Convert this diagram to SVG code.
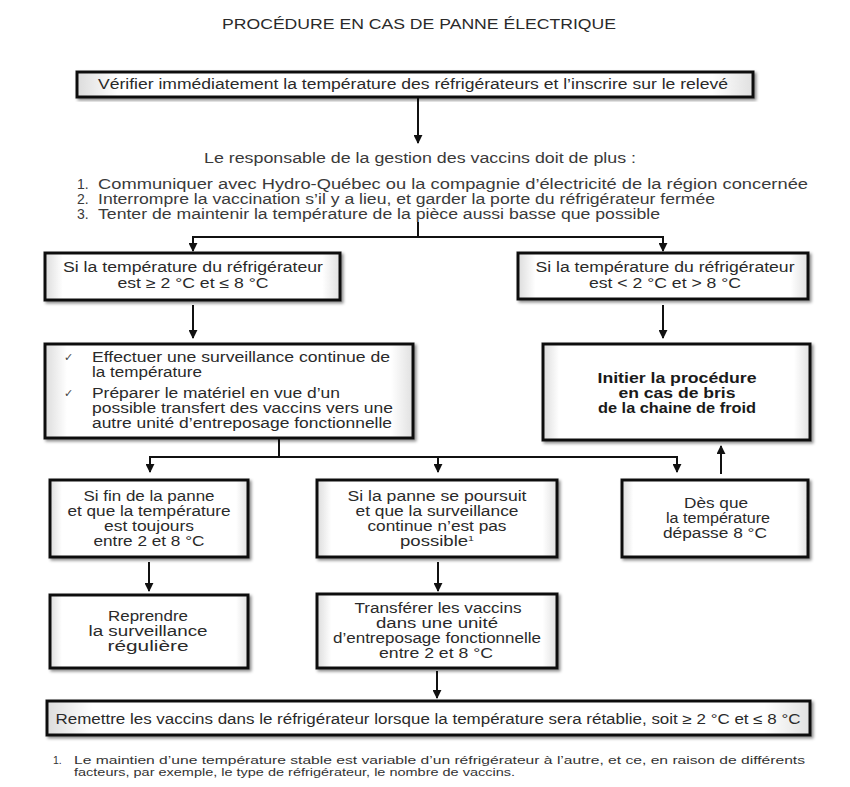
<svg xmlns="http://www.w3.org/2000/svg" width="850" height="787" viewBox="0 0 850 787">
<defs>
<style>
text{font-family:"Liberation Sans",Arial,sans-serif;font-size:14px;fill:#2a2a2a}
.c{text-anchor:middle}
.b{font-weight:bold;fill:#1a1a1a}
.t{font-size:14px}
.l{fill:#3a3a3a}
.ck{font-size:11px;fill:#444}
.fn{font-size:10.5px;fill:#333}
.box{fill:url(#bev);stroke:#111;stroke-width:3;filter:url(#sh)}
.ln{fill:none;stroke:#111;stroke-width:2}
</style>
<linearGradient id="bev" x1="0" y1="0" x2="1" y2="0">
<stop offset="0" stop-color="#dcdcdc"/>
<stop offset="0.06" stop-color="#ffffff"/>
<stop offset="0.94" stop-color="#ffffff"/>
<stop offset="1" stop-color="#e0e0e0"/>
</linearGradient>
<filter id="sh" x="-5%" y="-10%" width="115%" height="130%">
<feDropShadow dx="2" dy="2" stdDeviation="1.5" flood-color="#000" flood-opacity="0.45"/>
</filter>
<marker id="ar" viewBox="0 0 10 10" refX="9" refY="5" markerWidth="4.5" markerHeight="4.5" orient="auto">
<path d="M0,0 L10,5 L0,10 z" fill="#111"/>
</marker>
</defs>
<rect width="850" height="787" fill="#fff"/>

<text id="title" class="c t" x="419" y="29" textLength="394" lengthAdjust="spacingAndGlyphs">PROCÉDURE EN CAS DE PANNE ÉLECTRIQUE</text>

<g id="connectors">
<line class="ln" x1="418" y1="98" x2="418" y2="143" marker-end="url(#ar)"/>
<polyline class="ln" points="418,222 418,237"/>
<polyline class="ln" points="193,244 193,237 663,237 663,244"/>
<line class="ln" x1="193" y1="240" x2="193" y2="251" marker-end="url(#ar)"/>
<line class="ln" x1="663" y1="240" x2="663" y2="251" marker-end="url(#ar)"/>
<line class="ln" x1="193" y1="305" x2="193" y2="338" marker-end="url(#ar)"/>
<line class="ln" x1="663" y1="305" x2="663" y2="338" marker-end="url(#ar)"/>
<polyline class="ln" points="279,439 279,457"/>
<polyline class="ln" points="150,464 150,457 677,457 677,464"/>
<line class="ln" x1="150" y1="460" x2="150" y2="472" marker-end="url(#ar)"/>
<line class="ln" x1="438" y1="457" x2="438" y2="472" marker-end="url(#ar)"/>
<line class="ln" x1="677" y1="460" x2="677" y2="472" marker-end="url(#ar)"/>
<line class="ln" x1="721" y1="474" x2="721" y2="446" marker-end="url(#ar)"/>
<line class="ln" x1="149" y1="562" x2="149" y2="591" marker-end="url(#ar)"/>
<line class="ln" x1="438" y1="562" x2="438" y2="591" marker-end="url(#ar)"/>
<line class="ln" x1="437" y1="671" x2="437" y2="698" marker-end="url(#ar)"/>
</g>

<g id="n-verifier">
<rect class="box" x="77" y="72" width="676" height="25"/>
<text class="c" x="413" y="89" textLength="630" lengthAdjust="spacingAndGlyphs">Vérifier immédiatement la température des réfrigérateurs et l’inscrire sur le relevé</text>
</g>

<g id="n-responsable">
<text class="c l" x="420" y="163" textLength="432" lengthAdjust="spacingAndGlyphs">Le responsable de la gestion des vaccins doit de plus :</text>
<text class="l" x="77" y="189">1.</text>
<text class="l" x="98" y="189" textLength="710" lengthAdjust="spacingAndGlyphs">Communiquer avec Hydro-Québec ou la compagnie d’électricité de la région concernée</text>
<text class="l" x="77" y="204">2.</text>
<text class="l" x="98" y="204" textLength="617" lengthAdjust="spacingAndGlyphs">Interrompre la vaccination s’il y a lieu, et garder la porte du réfrigérateur fermée</text>
<text class="l" x="77" y="219">3.</text>
<text class="l" x="98" y="219" textLength="562" lengthAdjust="spacingAndGlyphs">Tenter de maintenir la température de la pièce aussi basse que possible</text>
</g>

<g id="n-cond-ok">
<rect class="box" x="45" y="253" width="295" height="47"/>
<text class="c" x="193" y="272" textLength="260" lengthAdjust="spacingAndGlyphs">Si la température du réfrigérateur</text>
<text class="c" x="193" y="288" textLength="151" lengthAdjust="spacingAndGlyphs">est ≥ 2 °C et ≤ 8 °C</text>
</g>

<g id="n-cond-ko">
<rect class="box" x="518" y="253" width="290" height="46"/>
<text class="c" x="665" y="272" textLength="259" lengthAdjust="spacingAndGlyphs">Si la température du réfrigérateur</text>
<text class="c" x="665" y="288" textLength="152" lengthAdjust="spacingAndGlyphs">est &lt; 2 °C et &gt; 8 °C</text>
</g>

<g id="n-effectuer">
<rect class="box" x="45" y="344" width="368" height="94"/>
<text class="ck" x="64" y="361">✓</text>
<text x="92" y="362" textLength="298" lengthAdjust="spacingAndGlyphs">Effectuer une surveillance continue de</text>
<text x="92" y="377" textLength="110" lengthAdjust="spacingAndGlyphs">la température</text>
<text class="ck" x="64" y="397">✓</text>
<text x="92" y="398" textLength="248" lengthAdjust="spacingAndGlyphs">Préparer le matériel en vue d’un</text>
<text x="92" y="413" textLength="301" lengthAdjust="spacingAndGlyphs">possible transfert des vaccins vers une</text>
<text x="92" y="428" textLength="300" lengthAdjust="spacingAndGlyphs">autre unité d’entreposage fonctionnelle</text>
</g>

<g id="n-initier">
<rect class="box" x="543" y="344" width="267" height="96"/>
<text class="c b" x="677" y="383" textLength="159" lengthAdjust="spacingAndGlyphs">Initier la procédure</text>
<text class="c b" x="677" y="398" textLength="117" lengthAdjust="spacingAndGlyphs">en cas de bris</text>
<text class="c b" x="677" y="413" textLength="158" lengthAdjust="spacingAndGlyphs">de la chaine de froid</text>
</g>

<g id="n-fin">
<rect class="box" x="50" y="480" width="198" height="77"/>
<text class="c" x="149" y="501" textLength="131" lengthAdjust="spacingAndGlyphs">Si fin de la panne</text>
<text class="c" x="149" y="516" textLength="163" lengthAdjust="spacingAndGlyphs">et que la température</text>
<text class="c" x="149" y="531" textLength="90" lengthAdjust="spacingAndGlyphs">est toujours</text>
<text class="c" x="149" y="546" textLength="111" lengthAdjust="spacingAndGlyphs">entre 2 et 8 °C</text>
</g>

<g id="n-poursuit">
<rect class="box" x="317" y="480" width="240" height="77"/>
<text class="c" x="437" y="501" textLength="179" lengthAdjust="spacingAndGlyphs">Si la panne se poursuit</text>
<text class="c" x="437" y="516" textLength="163" lengthAdjust="spacingAndGlyphs">et que la surveillance</text>
<text class="c" x="437" y="531" textLength="139" lengthAdjust="spacingAndGlyphs">continue n’est pas</text>
<text class="c" x="437" y="546" textLength="74" lengthAdjust="spacingAndGlyphs">possible<tspan font-size="8" dy="-5">1</tspan></text>
</g>

<g id="n-depasse">
<rect class="box" x="622" y="480" width="186" height="77"/>
<text class="c" x="716" y="508" textLength="64" lengthAdjust="spacingAndGlyphs">Dès que</text>
<text class="c" x="718" y="523" textLength="104" lengthAdjust="spacingAndGlyphs">la température</text>
<text class="c" x="715" y="538" textLength="104" lengthAdjust="spacingAndGlyphs">dépasse 8 °C</text>
</g>

<g id="n-reprendre">
<rect class="box" x="50" y="595" width="198" height="73"/>
<text class="c" x="148" y="621" textLength="80" lengthAdjust="spacingAndGlyphs">Reprendre</text>
<text class="c" x="148" y="636" textLength="119" lengthAdjust="spacingAndGlyphs">la surveillance</text>
<text class="c" x="148" y="651" textLength="81" lengthAdjust="spacingAndGlyphs">régulière</text>
</g>

<g id="n-transferer">
<rect class="box" x="317" y="594" width="240" height="74"/>
<text class="c" x="438" y="613" textLength="167" lengthAdjust="spacingAndGlyphs">Transférer les vaccins</text>
<text class="c" x="437" y="628" textLength="122" lengthAdjust="spacingAndGlyphs">dans une unité</text>
<text class="c" x="437" y="643" textLength="208" lengthAdjust="spacingAndGlyphs">d’entreposage fonctionnelle</text>
<text class="c" x="436" y="658" textLength="114" lengthAdjust="spacingAndGlyphs">entre 2 et 8 °C</text>
</g>

<g id="n-remettre">
<rect class="box" x="47" y="701" width="763" height="34"/>
<text class="c" x="428" y="724" textLength="745" lengthAdjust="spacingAndGlyphs">Remettre les vaccins dans le réfrigérateur lorsque la température sera rétablie, soit ≥ 2 °C et ≤ 8 °C</text>
</g>

<g id="footnote">
<text class="fn" x="53" y="764">1.</text>
<text class="fn" x="74" y="764" textLength="731" lengthAdjust="spacingAndGlyphs">Le maintien d’une température stable est variable d’un réfrigérateur à l’autre, et ce, en raison de différents</text>
<text class="fn" x="74" y="776" textLength="441" lengthAdjust="spacingAndGlyphs">facteurs, par exemple, le type de réfrigérateur, le nombre de vaccins.</text>
</g>
</svg>
